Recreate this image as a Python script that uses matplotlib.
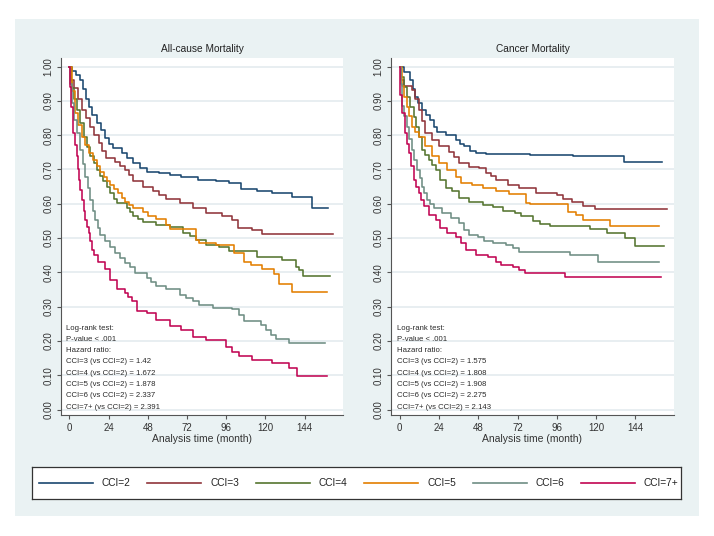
import matplotlib
matplotlib.use("Agg")
import matplotlib.pyplot as plt
from matplotlib.patches import Rectangle
from matplotlib.lines import Line2D

plt.rcParams['font.family'] = ['Liberation Sans', 'DejaVu Sans']

# ---------------- data ----------------
groups = ["CCI=2", "CCI=3", "CCI=4", "CCI=5", "CCI=6", "CCI=7+"]
colors = ["#1A476F", "#90353B", "#55752F", "#E37E00", "#6E8E84", "#C10552"]
titles = ["All-cause Mortality", "Cancer Mortality"]
xticks = [0, 24, 48, 72, 96, 120, 144]
yticks = [0.0, 0.1, 0.2, 0.3, 0.4, 0.5, 0.6, 0.7, 0.8, 0.9, 1.0]
xlabel = "Analysis time (month)"

# All-cause mortality
ac_cci2_t = [0, 1.6, 4, 6.7, 8.5, 10, 11.7, 14, 16.8, 19, 21.9, 24.5, 26.9, 32, 35.5, 39.1, 43, 47.2, 55, 61.4, 68, 78.6, 90, 97.8, 104.9, 115, 124, 136.3, 148.5, 158.6]
ac_cci2_s = [1.0, 0.986, 0.975, 0.961, 0.935, 0.905, 0.883, 0.86, 0.835, 0.815, 0.791, 0.775, 0.762, 0.747, 0.733, 0.718, 0.703, 0.694, 0.690, 0.684, 0.679, 0.668, 0.665, 0.660, 0.643, 0.638, 0.631, 0.619, 0.587, 0.587]
ac_cci3_t = [0, 1, 2.6, 5, 7.7, 10, 12.8, 15, 17.9, 20, 22.5, 27.9, 31, 34, 36.5, 39, 45, 51.4, 55, 59, 67.4, 75.5, 83.6, 93.7, 99.8, 102.9, 112, 118, 161.6]
ac_cci3_s = [1.0, 0.96, 0.937, 0.905, 0.874, 0.85, 0.825, 0.80, 0.777, 0.755, 0.733, 0.723, 0.71, 0.699, 0.683, 0.665, 0.650, 0.636, 0.625, 0.613, 0.602, 0.587, 0.573, 0.565, 0.553, 0.529, 0.524, 0.511, 0.511]
ac_cci4_t = [0, 0.8, 1.6, 3, 4.7, 6.7, 8.7, 10.7, 12.8, 14.8, 16.8, 18.8, 20.8, 22.8, 24.9, 27, 29, 35, 37, 39, 42, 45.1, 53.2, 61.4, 69.4, 73.5, 77.6, 83.6, 91.7, 97.8, 115, 130.4, 138.8, 140.4, 142.8, 159.6]
ac_cci4_s = [1.0, 0.96, 0.937, 0.905, 0.874, 0.835, 0.796, 0.765, 0.738, 0.718, 0.699, 0.682, 0.665, 0.648, 0.631, 0.615, 0.602, 0.587, 0.575, 0.563, 0.555, 0.548, 0.538, 0.531, 0.514, 0.505, 0.495, 0.480, 0.473, 0.461, 0.446, 0.436, 0.417, 0.407, 0.390, 0.390]
ac_cci5_t = [0, 1.5, 3.6, 5.5, 7.7, 9.7, 11.8, 14.3, 16.8, 18.8, 20.9, 22.9, 24.9, 27.5, 30, 32, 34, 36.5, 39, 45.1, 48.2, 53.2, 59.4, 61.4, 77.6, 79.6, 90, 101, 106.9, 111, 118, 125, 128, 136.3, 157.6]
ac_cci5_s = [1.0, 0.93, 0.864, 0.83, 0.796, 0.77, 0.748, 0.728, 0.709, 0.694, 0.679, 0.667, 0.655, 0.643, 0.631, 0.618, 0.606, 0.596, 0.587, 0.577, 0.563, 0.555, 0.538, 0.526, 0.495, 0.487, 0.480, 0.456, 0.431, 0.422, 0.410, 0.396, 0.366, 0.342, 0.342]
ac_cci6_t = [0, 0.5, 1.6, 3, 4.3, 6.7, 8.2, 9.7, 11.2, 12.8, 14.3, 15.8, 17.3, 18.8, 21.9, 24.9, 28, 31, 34, 37, 40, 47.2, 50, 53.2, 59.3, 67.4, 71.5, 75.5, 79.6, 87.7, 99.8, 103.9, 106.9, 117, 120.3, 123.5, 126.4, 134.4, 156.6]
ac_cci6_s = [1.0, 0.95, 0.893, 0.845, 0.806, 0.757, 0.715, 0.679, 0.645, 0.611, 0.58, 0.553, 0.53, 0.509, 0.49, 0.475, 0.457, 0.441, 0.428, 0.417, 0.398, 0.383, 0.372, 0.361, 0.351, 0.334, 0.325, 0.315, 0.305, 0.296, 0.293, 0.276, 0.259, 0.247, 0.232, 0.218, 0.205, 0.194, 0.194]
ac_cci7_t = [0, 0.5, 1.2, 2.2, 3.2, 4.3, 5, 5.7, 6.7, 7.7, 8.7, 9.7, 10.7, 11.7, 12.8, 13.8, 15.3, 17.5, 21.9, 24.9, 29, 34, 36, 38.1, 41.1, 47.2, 53.2, 61.4, 68.4, 75.5, 83.6, 95.7, 99.8, 103.9, 112, 124.1, 134.3, 139.3, 157.6]
ac_cci7_s = [1.0, 0.94, 0.883, 0.806, 0.77, 0.738, 0.70, 0.670, 0.64, 0.611, 0.58, 0.553, 0.533, 0.514, 0.49, 0.466, 0.45, 0.43, 0.41, 0.378, 0.351, 0.339, 0.327, 0.315, 0.286, 0.281, 0.262, 0.244, 0.232, 0.211, 0.203, 0.182, 0.168, 0.155, 0.145, 0.135, 0.121, 0.099, 0.099]

# Cancer mortality
ca_cci2_t = [0, 2.5, 6.6, 8, 9.6, 11.5, 13.7, 16, 18.9, 21, 23, 28.1, 34.3, 37, 39.4, 43, 46.6, 52.7, 79.4, 106, 136.8, 160.4]
ca_cci2_s = [1.0, 0.985, 0.961, 0.935, 0.912, 0.893, 0.874, 0.86, 0.845, 0.825, 0.810, 0.801, 0.786, 0.775, 0.767, 0.755, 0.748, 0.745, 0.743, 0.738, 0.721, 0.721]
ca_cci3_t = [0, 1, 2.5, 7.6, 9.6, 11.7, 13.7, 15.8, 19.9, 24, 30.2, 33, 36.3, 42.5, 48.6, 52.7, 55.8, 58.9, 66, 73.2, 83.5, 95.8, 99.9, 105, 112.2, 119.4, 163]
ca_cci3_s = [1.0, 0.96, 0.942, 0.932, 0.905, 0.874, 0.84, 0.806, 0.786, 0.767, 0.752, 0.735, 0.718, 0.708, 0.704, 0.689, 0.68, 0.670, 0.655, 0.646, 0.631, 0.626, 0.613, 0.604, 0.594, 0.585, 0.585]
ca_cci4_t = [0, 1, 2.7, 4.5, 6.5, 8.6, 10.2, 11.7, 13.7, 15.8, 17.8, 20, 22, 25, 28.1, 32.2, 36.3, 42.5, 50.7, 56.8, 63, 70.2, 74.3, 81.4, 85.5, 91.7, 116.3, 126.6, 137.8, 144, 161.4]
ca_cci4_s = [1.0, 0.969, 0.94, 0.912, 0.883, 0.854, 0.825, 0.796, 0.757, 0.742, 0.728, 0.713, 0.699, 0.670, 0.646, 0.636, 0.616, 0.606, 0.597, 0.590, 0.580, 0.573, 0.563, 0.551, 0.541, 0.536, 0.526, 0.514, 0.500, 0.477, 0.477]
ca_cci5_t = [0, 1.4, 3, 4.5, 6, 7.6, 9.6, 11.7, 15.8, 19.9, 24, 29.1, 34.3, 37.3, 44.5, 50.7, 58.9, 67.1, 77.3, 79.4, 103, 108, 112.2, 128.6, 158.4]
ca_cci5_s = [1.0, 0.942, 0.91, 0.883, 0.855, 0.825, 0.81, 0.796, 0.767, 0.738, 0.718, 0.699, 0.679, 0.660, 0.655, 0.646, 0.636, 0.628, 0.602, 0.600, 0.577, 0.568, 0.553, 0.534, 0.534]
ca_cci6_t = [0, 0.6, 1.8, 3, 4.5, 6, 7.6, 9.1, 10.7, 12.2, 13.7, 15.2, 16.8, 18.8, 20.9, 26, 31.2, 36.3, 39.4, 42.5, 47.6, 51.7, 56.8, 65, 69.1, 73.2, 104, 121.4, 158.4]
ca_cci6_s = [1.0, 0.95, 0.885, 0.855, 0.825, 0.79, 0.757, 0.728, 0.699, 0.675, 0.650, 0.63, 0.611, 0.598, 0.587, 0.573, 0.558, 0.543, 0.524, 0.509, 0.503, 0.490, 0.485, 0.480, 0.471, 0.459, 0.451, 0.431, 0.431]
ca_cci7_t = [0, 0.4, 1.4, 3.1, 4.3, 5.5, 7, 8.6, 10.2, 11.7, 13.2, 14.8, 17.8, 22, 25, 29.1, 34.3, 37.3, 40.4, 46.6, 53.7, 58.9, 62, 69.1, 73.2, 76.3, 100.9, 159.4]
ca_cci7_s = [1.0, 0.917, 0.864, 0.806, 0.775, 0.748, 0.71, 0.670, 0.65, 0.631, 0.61, 0.592, 0.568, 0.553, 0.529, 0.514, 0.504, 0.485, 0.466, 0.451, 0.446, 0.431, 0.422, 0.417, 0.407, 0.399, 0.386, 0.386]

ac_hr = ["1.42", "1.672", "1.878", "2.337", "2.391"]
ca_hr = ["1.575", "1.808", "1.908", "2.275", "2.143"]
pvalue_text = "P-value < .001"

panels = [
    [(ac_cci2_t, ac_cci2_s), (ac_cci3_t, ac_cci3_s), (ac_cci4_t, ac_cci4_s),
     (ac_cci5_t, ac_cci5_s), (ac_cci6_t, ac_cci6_s), (ac_cci7_t, ac_cci7_s)],
    [(ca_cci2_t, ca_cci2_s), (ca_cci3_t, ca_cci3_s), (ca_cci4_t, ca_cci4_s),
     (ca_cci5_t, ca_cci5_s), (ca_cci6_t, ca_cci6_s), (ca_cci7_t, ca_cci7_s)],
]
hrs = [ac_hr, ca_hr]

# ---------------- layout ----------------
W, H = 714, 536
fig = plt.figure(figsize=(W / 100, H / 100), dpi=100)
fig.patch.set_facecolor("white")


def frac(x0, y0, x1, y1):
    return [x0 / W, 1 - y1 / H, (x1 - x0) / W, (y1 - y0) / H]


BG = "#EAF2F3"
bg = frac(15, 19, 699, 516)
fig.patches.append(Rectangle((bg[0], bg[1]), bg[2], bg[3], transform=fig.transFigure,
                             facecolor=BG, edgecolor="none", zorder=-10))

axes_px = [(61, 58, 343, 415), (391, 58, 674, 415)]
text_x = [0.018, 0.021]
TXT = "#2a2a2a"

for k in range(2):
    ax = fig.add_axes(frac(*axes_px[k]), zorder=1)
    ax.set_facecolor("white")
    for (t, s), c in zip(panels[k], colors):
        ax.step(t, s, where="post", color=c, lw=1.15, zorder=3)
    ax.set_xlim(-5.2, 167.5)
    ax.set_ylim(-0.016, 1.025)
    ax.set_yticks(yticks)
    ax.set_yticklabels([f"{v:.2f}" for v in yticks], rotation=90, va="center")
    ax.set_xticks(xticks)
    ax.set_xticklabels([str(v) for v in xticks])
    ax.grid(axis="y", color="#E2EAEE", lw=1.1, zorder=0)
    ax.set_axisbelow(True)
    for side in ["top", "right"]:
        ax.spines[side].set_visible(False)
    for side in ["left", "bottom"]:
        ax.spines[side].set_color("#555555")
        ax.spines[side].set_linewidth(0.8)
    ax.tick_params(axis="both", direction="out", length=3, width=0.8, color="#555555",
                   labelsize=7, labelcolor="#333333")
    ax.tick_params(axis="y", pad=2.5)
    ax.tick_params(axis="x", pad=3)
    ax.set_xlabel(xlabel, fontsize=7.5, color="#333333", labelpad=0.5)
    ax.set_title(titles[k], fontsize=7.3, color="#222222", pad=4)

    lines = ["Log-rank test:", pvalue_text, "Hazard ratio:"] + \
        [f"{g} (vs {groups[0]}) = {h}" for g, h in zip(groups[1:], hrs[k])]
    y0 = (415 - 328) / 357
    dy = 11.3 / 357
    for i, ln in enumerate(lines):
        ax.text(text_x[k], y0 - i * dy, ln, transform=ax.transAxes, fontsize=5.6,
                color=TXT, va="center", ha="left", zorder=5)

# ---------------- legend ----------------
lx0, ly0, lx1, ly1 = 32, 467, 681, 499
lax = fig.add_axes(frac(lx0, ly0, lx1, ly1), zorder=1)
lax.set_facecolor("white")
lax.set_xlim(0, lx1 - lx0)
lax.set_ylim(0, 1)
lax.set_xticks([])
lax.set_yticks([])
for sp in lax.spines.values():
    sp.set_color("#333333")
    sp.set_linewidth(0.9)
step = 108.4
for i, (g, c) in enumerate(zip(groups, colors)):
    lax.add_line(Line2D([7 + i * step, 61 + i * step], [0.5, 0.5], color=c, lw=1.2))
    lax.text(70 + i * step, 0.5, g, fontsize=7.3, color="#222222", va="center", ha="left")

fig.savefig("out.png", dpi=100, facecolor="white")
